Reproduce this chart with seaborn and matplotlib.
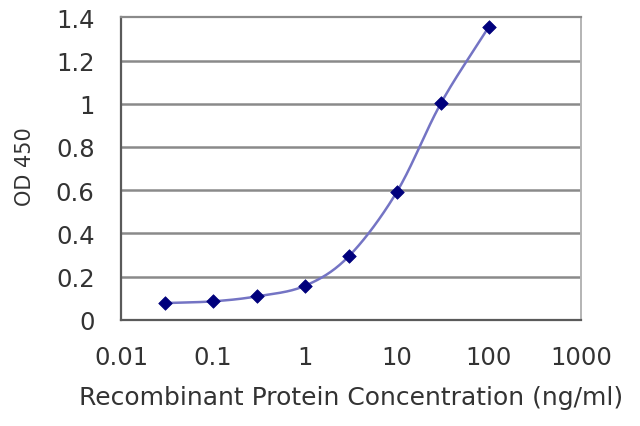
import numpy as np
import pandas as pd
import matplotlib
matplotlib.use("Agg")
import matplotlib.pyplot as plt
from matplotlib.ticker import FuncFormatter, FixedLocator, NullLocator
import seaborn as sns

# ---- data ----
concentration = [0.03, 0.1, 0.3, 1, 3, 10, 30, 100]          # ng/ml
od450 = [0.077, 0.085, 0.108, 0.157, 0.294, 0.593, 1.002, 1.357]
x_ticks = [0.01, 0.1, 1, 10, 100, 1000]
y_ticks = [0, 0.2, 0.4, 0.6, 0.8, 1.0, 1.2, 1.4]
x_label = "Recombinant Protein Concentration (ng/ml)"
y_label = "OD 450"

df = pd.DataFrame({"conc": concentration, "od": od450})

# smoothed connecting line (Catmull-Rom through the data in log-x space)
lx = np.log10(df["conc"].to_numpy(float))
ly = df["od"].to_numpy(float)
px = np.concatenate([[2 * lx[0] - lx[1]], lx, [2 * lx[-1] - lx[-2]]])
py = np.concatenate([[2 * ly[0] - ly[1]], ly, [2 * ly[-1] - ly[-2]]])
sx, sy = [], []
t = np.linspace(0, 1, 30)
for i in range(1, len(px) - 2):
    for arr, out in ((px, sx), (py, sy)):
        p0, p1, p2, p3 = arr[i - 1], arr[i], arr[i + 1], arr[i + 2]
        out.extend(0.5 * ((2 * p1) + (-p0 + p2) * t
                          + (2 * p0 - 5 * p1 + 4 * p2 - p3) * t ** 2
                          + (-p0 + 3 * p1 - 3 * p2 + p3) * t ** 3))
curve = pd.DataFrame({"conc": 10 ** np.array(sx), "od": np.array(sy)})

sns.set_theme(style="white")
plt.rcParams["font.family"] = ["DejaVu Sans"]

text_col = "#333333"
fig = plt.figure(figsize=(6.4, 4.27), dpi=100)
ax = fig.add_axes([121 / 640, 1 - 320.7 / 427, 460 / 640, 302.4 / 427])

ax.set_xscale("log")
ax.set_xlim(0.01, 1000)
ax.set_ylim(0, 1.4)

for yv in y_ticks[1:-1]:
    ax.axhline(yv, color="#8a8a8a", lw=1.8, zorder=1)

sns.lineplot(data=curve, x="conc", y="od", sort=False, ax=ax,
             color="#7474c4", lw=1.8, zorder=3)
sns.scatterplot(data=df, x="conc", y="od", ax=ax, marker="D", s=48,
                color="#00007c", edgecolor="#00007c", linewidth=0.5, zorder=4)

ax.xaxis.set_major_locator(FixedLocator(x_ticks))
ax.xaxis.set_minor_locator(NullLocator())
ax.xaxis.set_major_formatter(FuncFormatter(lambda v, p: f"{v:g}"))
ax.set_yticks(y_ticks)
ax.yaxis.set_major_formatter(FuncFormatter(lambda v, p: f"{v:g}"))

ax.tick_params(axis="x", direction="in", length=4, width=1.2, color="#555555",
               labelsize=17.5, labelcolor=text_col, pad=18)
ax.tick_params(axis="y", direction="out", length=3, width=1.2, color="#555555",
               labelsize=17.5, labelcolor=text_col, pad=16)

for side in ("left", "bottom"):
    ax.spines[side].set_color("#5a5a5a")
    ax.spines[side].set_linewidth(1.6)
ax.spines["top"].set_color("#8a8a8a")
ax.spines["top"].set_linewidth(1.6)
ax.spines["right"].set_color("#b4b4b4")
ax.spines["right"].set_linewidth(1.4)

ax.set_xlabel(x_label, fontsize=18, color=text_col)
ax.set_ylabel(y_label, fontsize=15, color=text_col)
ax.xaxis.set_label_coords(0.5, (320.7 - 398) / 302.4)
ax.xaxis.label.set_verticalalignment("center")
ax.yaxis.set_label_coords((25 - 121) / 460, 0.51)
ax.yaxis.label.set_verticalalignment("center")

fig.savefig("out.png", dpi=100, facecolor="white")
